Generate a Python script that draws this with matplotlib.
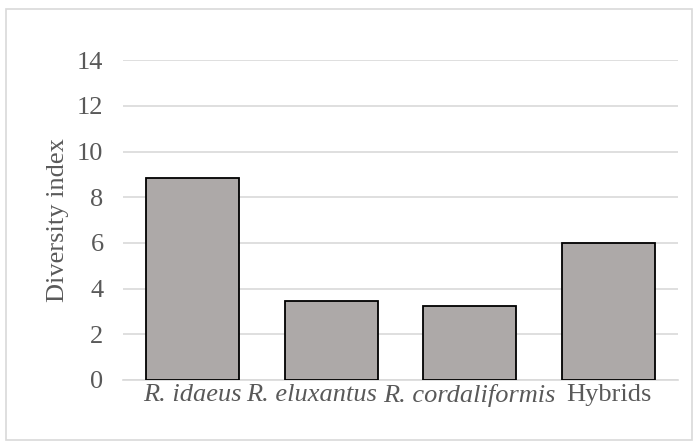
import numpy as np
import matplotlib.pyplot as plt
import matplotlib.transforms as mtransforms
from matplotlib.patches import Rectangle

categories = ['R. idaeus', 'R. eluxantus', 'R. cordaliformis', 'Hybrids']
italic = [True, True, True, False]
diversity = [8.85, 3.46, 3.22, 6.0]
yticks = [0, 2, 4, 6, 8, 10, 12, 14]

plt.rcParams['font.family'] = 'serif'
plt.rcParams['font.serif'] = ['Liberation Serif', 'Times New Roman', 'DejaVu Serif']

fig = plt.figure(figsize=(6.98, 4.46), dpi=100)
ax = fig.add_axes([0.1762, 0.148, 0.795, 0.717])

x = np.arange(len(categories))
ax.bar(x, diversity, width=0.67, color='#ADA9A8', edgecolor='black', linewidth=1.3, zorder=3)

ax.set_ylim(0, 14)
ax.set_xlim(-0.5, len(categories) - 0.5)
ax.set_yticks(yticks)
ax.yaxis.grid(True, color='#D9D9D9', linewidth=1.2, zorder=0)
ax.set_axisbelow(True)
for s in ['top', 'right', 'left']:
    ax.spines[s].set_visible(False)
ax.spines['bottom'].set_color('#D9D9D9')
ax.spines['bottom'].set_linewidth(1.2)
ax.tick_params(axis='both', length=0, labelsize=19, colors='#595959')
ax.tick_params(axis='y', pad=14)
ax.set_xticks(x)
ax.set_xticklabels(categories)
for lbl, it in zip(ax.get_xticklabels(), italic):
    if it:
        lbl.set_fontstyle('italic')
ax.tick_params(axis='x', pad=3)

# nudge the second label left so it does not run into the third (as Excel does)
lbl2 = ax.get_xticklabels()[1]
lbl2.set_transform(lbl2.get_transform() + mtransforms.ScaledTranslation(-0.2, 0, fig.dpi_scale_trans))

ax.set_ylabel('Diversity index', fontsize=19, color='#595959', labelpad=6)

fig.patches.append(Rectangle((0.009, 0.013), 0.982, 0.967, transform=fig.transFigure,
                             fill=False, edgecolor='#D9D9D9', linewidth=1.2))

fig.savefig('out.png', dpi=100)
